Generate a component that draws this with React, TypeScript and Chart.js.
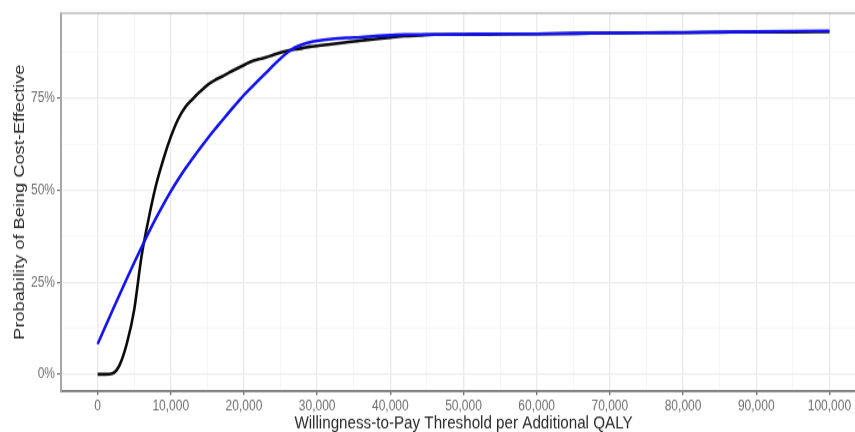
import React, { useEffect, useRef } from "react";
import { Chart, registerables } from "chart.js";

Chart.register(...registerables);

// Willingness-to-pay thresholds (shared x values)
const wtpThresholds = [
  0, 1000, 2000, 3000, 4000, 5000, 6000, 7000, 8000, 9000, 10000,
  11000, 12000, 13000, 14000, 15000, 16000, 17000, 18000, 19000, 20000,
  21000, 22000, 23000, 24000, 25000, 26000, 27000, 28000, 29000, 30000,
  32000, 34000, 36000, 38000, 40000, 42000, 44000, 46000, 50000,
  55000, 60000, 65000, 70000, 75000, 80000, 85000, 90000, 95000, 100000,
];

// Probability of being cost-effective (%) – black curve
const blackSeries = [
  0, 0, 0.2, 2.5, 8.4, 17.5, 32, 42.5, 51.5, 58.5, 64.5,
  69.3, 72.6, 74.8, 76.8, 78.6, 79.9, 80.9, 82, 83, 84,
  85, 85.6, 86.1, 86.8, 87.4, 87.9, 88.3, 88.6, 89, 89.2,
  89.7, 90.2, 90.7, 91.1, 91.5, 91.9, 92.1, 92.3, 92.3,
  92.4, 92.5, 92.6, 92.7, 92.8, 92.8, 92.9, 93.0, 93.0, 93.1,
];

// Probability of being cost-effective (%) – blue curve
const blueSeries = [
  8.2, 12.7, 17.2, 21.6, 26.0, 30.3, 34.5, 38.6, 42.5, 46.2, 49.7,
  52.9, 55.9, 58.7, 61.4, 64.0, 66.5, 68.9, 71.3, 73.6, 75.9,
  77.9, 79.9, 81.9, 83.9, 85.8, 87.5, 88.8, 89.6, 90.2, 90.6,
  91.1, 91.4, 91.6, 91.9, 92.1, 92.3, 92.3, 92.3, 92.4,
  92.5, 92.5, 92.6, 92.7, 92.8, 92.9, 93.0, 93.1, 93.2, 93.3,
];

// Tick positions (major + minor grid)
const xTickValues = [
  0, 5000, 10000, 15000, 20000, 25000, 30000, 35000, 40000, 45000, 50000,
  55000, 60000, 65000, 70000, 75000, 80000, 85000, 90000, 95000, 100000,
];
const xLabelStep = 10000;
const yTickValues = [0, 12.5, 25, 37.5, 50, 62.5, 75, 87.5];
const yLabelStep = 25;

const xTitle = "Willingness-to-Pay Threshold per Additional QALY";
const yTitle = "Probability of Being Cost-Effective";

const FONT = "'Liberation Sans', Arial, Helvetica, sans-serif";

// The reference picture is stretched vertically; the canvas is drawn at a
// smaller height and displayed at the full 432px height.
const CANVAS_W = 870;
const CANVAS_H = 360;
const DISPLAY_H = 432;

const topBorderPlugin = {
  id: "topBorder",
  afterDraw(chart: any) {
    const { ctx, chartArea } = chart;
    ctx.save();
    ctx.strokeStyle = "#bdbdbd";
    ctx.lineWidth = 1.7;
    ctx.beginPath();
    ctx.moveTo(chartArea.left - 1, chartArea.top);
    ctx.lineTo(chartArea.right + 5, chartArea.top);
    ctx.stroke();
    ctx.restore();
  },
};

export default function App() {
  const canvasRef = useRef<HTMLCanvasElement | null>(null);

  useEffect(() => {
    const canvas = canvasRef.current;
    if (!canvas) return;
    const toPts = (ys: number[]) => wtpThresholds.map((x, i) => ({ x, y: ys[i] }));

    const chart = new Chart(canvas, {
      type: "line",
      data: {
        datasets: [
          {
            label: "Blue",
            data: toPts(blueSeries),
            borderColor: "#1212ee",
            borderWidth: 2.6,
            pointRadius: 0,
            cubicInterpolationMode: "monotone",
            order: 0,
          },
          {
            label: "Black",
            data: toPts(blackSeries),
            borderColor: "#0a0a0a",
            borderWidth: 2.6,
            pointRadius: 0,
            cubicInterpolationMode: "monotone",
            order: 1,
          },
        ],
      },
      options: {
        animation: false,
        responsive: false,
        devicePixelRatio: 1,
        layout: { padding: { top: 11, right: 4, left: 0, bottom: 0 } },
        plugins: {
          legend: { display: false },
          tooltip: { enabled: false },
        },
        scales: {
          x: {
            type: "linear",
            min: -5000,
            max: 105000,
            afterBuildTicks: (s: any) => {
              s.ticks = xTickValues.map((v) => ({ value: v }));
            },
            afterFit: (s: any) => {
              s.height = 34;
            },
            ticks: {
              autoSkip: false,
              maxRotation: 0,
              padding: 2.5,
              color: "#6e6e6e",
              font: { family: FONT, size: 12 },
              callback: (v: any) =>
                Number(v) % xLabelStep === 0 ? Number(v).toLocaleString("en-US") : "",
            },
            grid: {
              color: (c: any) =>
                c.tick && c.tick.value % xLabelStep === 0 ? "#ebebeb" : "#f4f4f4",
              lineWidth: (c: any) =>
                c.tick && c.tick.value % xLabelStep === 0 ? 1.4 : 0.8,
              tickColor: (c: any) =>
                c.tick && c.tick.value % xLabelStep === 0 ? "#666666" : "rgba(0,0,0,0)",
              tickLength: 3.3,
              tickWidth: 1.3,
            },
            border: { display: true, color: "#6e6e6e", width: 1.7 },
            title: {
              display: true,
              text: xTitle,
              color: "#2a2a2a",
              font: { family: FONT, size: 15.2 },
              padding: { top: 0, bottom: -2 },
            },
          },
          y: {
            type: "linear",
            min: -4.6,
            max: 98.1,
            afterBuildTicks: (s: any) => {
              s.ticks = yTickValues.map((v) => ({ value: v }));
            },
            afterFit: (s: any) => {
              s.width = 61;
            },
            ticks: {
              autoSkip: false,
              padding: 2,
              color: "#6e6e6e",
              font: { family: FONT, size: 12 },
              callback: (v: any) => (Number(v) % yLabelStep === 0 ? `${v}%` : ""),
            },
            grid: {
              color: (c: any) =>
                c.tick && c.tick.value % yLabelStep === 0 ? "#ebebeb" : "#f4f4f4",
              lineWidth: (c: any) =>
                c.tick && c.tick.value % yLabelStep === 0 ? 1.2 : 0.7,
              tickColor: (c: any) =>
                c.tick && c.tick.value % yLabelStep === 0 ? "#666666" : "rgba(0,0,0,0)",
              tickLength: 4,
              tickWidth: 1.1,
            },
            border: { display: true, color: "#a8a8a8", width: 2 },
            title: {
              display: true,
              text: yTitle,
              color: "#2a2a2a",
              font: { family: FONT, size: 15.2 },
              padding: { top: 11, bottom: 0 },
            },
          },
        },
      },
      plugins: [topBorderPlugin],
    } as any);

    return () => chart.destroy();
  }, []);

  return (
    <div
      style={{
        position: "fixed",
        left: 0,
        top: 0,
        width: 855,
        height: DISPLAY_H,
        overflow: "hidden",
        background: "#ffffff",
      }}
    >
      <canvas
        ref={canvasRef}
        width={CANVAS_W}
        height={CANVAS_H}
        style={{ display: "block", width: `${CANVAS_W}px`, height: `${DISPLAY_H}px` }}
      />
    </div>
  );
}
